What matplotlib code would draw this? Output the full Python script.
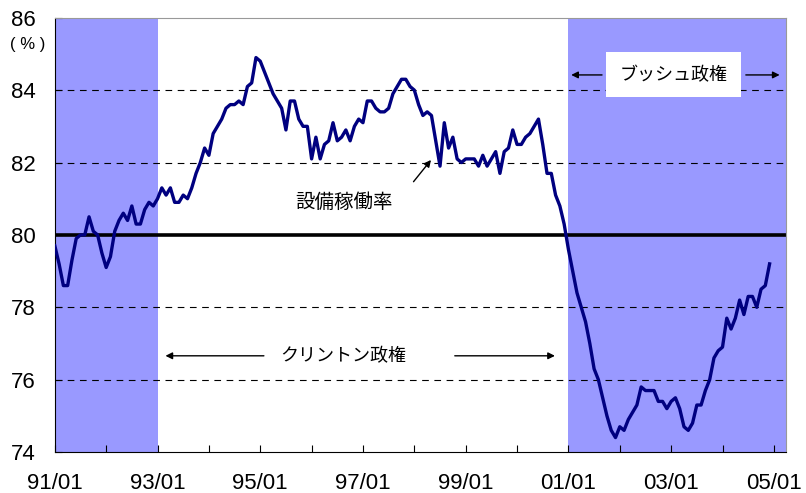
import numpy as np
import matplotlib.pyplot as plt

plt.rcParams['font.family'] = ['Liberation Sans Narrow', 'Liberation Sans', 'DejaVu Sans']
jp = ['Noto Sans CJK JP', 'DejaVu Sans']

# monthly capacity utilization, 1991/01 .. 2004/12
util = [
    79.7, 79.2, 78.6, 78.6, 79.3, 79.9, 80.0, 80.0, 80.5, 80.1, 80.0, 79.5,
    79.1, 79.4, 80.1, 80.4, 80.6, 80.4, 80.8, 80.3, 80.3, 80.7, 80.9, 80.8,
    81.0, 81.3, 81.1, 81.3, 80.9, 80.9, 81.1, 81.0, 81.3, 81.7, 82.0, 82.4,
    82.2, 82.8, 83.0, 83.2, 83.5, 83.6, 83.6, 83.7, 83.6, 84.1, 84.2, 84.9,
    84.8, 84.5, 84.2, 83.9, 83.7, 83.5, 82.9, 83.7, 83.7, 83.2, 83.0, 83.0,
    82.1, 82.7, 82.1, 82.5, 82.6, 83.1, 82.6, 82.7, 82.9, 82.6, 83.0, 83.2,
    83.1, 83.7, 83.7, 83.5, 83.4, 83.4, 83.5, 83.9, 84.1, 84.3, 84.3, 84.1,
    84.0, 83.6, 83.3, 83.4, 83.3, 82.6, 81.9, 83.1, 82.4, 82.7, 82.1, 82.0,
    82.1, 82.1, 82.1, 81.9, 82.2, 81.9, 82.1, 82.3, 81.7, 82.3, 82.4, 82.9,
    82.5, 82.5, 82.7, 82.8, 83.0, 83.2, 82.5, 81.7, 81.7, 81.1, 80.8, 80.3,
    79.6, 79.0, 78.4, 78.0, 77.6, 77.0, 76.3, 76.0, 75.5, 75.0, 74.6, 74.4,
    74.7, 74.6, 74.9, 75.1, 75.3, 75.8, 75.7, 75.7, 75.7, 75.4, 75.4, 75.2,
    75.4, 75.5, 75.2, 74.7, 74.6, 74.8, 75.3, 75.3, 75.7, 76.0, 76.6, 76.8,
    76.9, 77.7, 77.4, 77.7, 78.2, 77.8, 78.3, 78.3, 78.0, 78.5, 78.6, 79.2,
]
tick_labels = ['91/01', '93/01', '95/01', '97/01', '99/01', '01/01', '03/01', '05/01']
bush1 = (0, 24)        # months from 91/01
bush2 = (120, 170.8)

months = np.arange(len(util))

fig = plt.figure(figsize=(8.06, 4.93), dpi=100)
ax = fig.add_axes([0.068, 0.083, 0.907, 0.881])

ax.axvspan(*bush1, color='#9999ff', lw=0, zorder=0)
ax.axvspan(*bush2, color='#9999ff', lw=0, zorder=0)

for y in [76, 78, 82, 84]:
    ax.axhline(y, color='black', lw=0.8, ls=(0, (6, 5)), zorder=1)
ax.axhline(80, color='black', lw=2.6, zorder=2)

ax.plot(months, util, color='#000080', lw=2.4, zorder=3)

ax.set_xlim(0, 170.8)
ax.set_ylim(74, 86)
ax.set_yticks(range(74, 87, 2))
ax.set_xticks(range(0, 169, 24))
ax.set_xticklabels(tick_labels)
ax.set_xticks(range(0, 169, 12), minor=True)
ax.tick_params(axis='both', direction='in', labelsize=16, length=5, width=0.8)
ax.tick_params(axis='x', which='minor', direction='in', length=5, width=0.8)
ax.tick_params(axis='x', pad=15)
ax.tick_params(axis='y', pad=14)
for s in ['top', 'right']:
    ax.spines[s].set_color('#999999')
for s in ['left', 'bottom']:
    ax.spines[s].set_color('black')

fig.text(0.012, 0.9, '( % )', fontsize=12)

arr = dict(arrowstyle='-|>', color='black', lw=1, mutation_scale=10)
# Bush
ax.text(144.6, 84.42, 'ブッシュ政権', family=jp, fontsize=13, ha='center', va='center',
        bbox=dict(boxstyle='square,pad=0.75', facecolor='white', edgecolor='none'))
ax.annotate('', xy=(120, 84.42), xytext=(128.5, 84.42), arrowprops=arr)
ax.annotate('', xy=(170.0, 84.42), xytext=(160.8, 84.42), arrowprops=arr)
# Clinton
ax.text(67.5, 76.66, 'クリントン政権', family=jp, fontsize=13, ha='center', va='center')
ax.annotate('', xy=(25.2, 76.66), xytext=(49.5, 76.66), arrowprops=arr)
ax.annotate('', xy=(117.5, 76.66), xytext=(92.8, 76.66), arrowprops=arr)
# series label
ax.text(67.5, 80.9, '設備稼働率', family=jp, fontsize=14, ha='center', va='center')
ax.annotate('', xy=(88.3, 82.13), xytext=(83.4, 81.41), arrowprops=arr)

fig.savefig('out.png', dpi=100)
